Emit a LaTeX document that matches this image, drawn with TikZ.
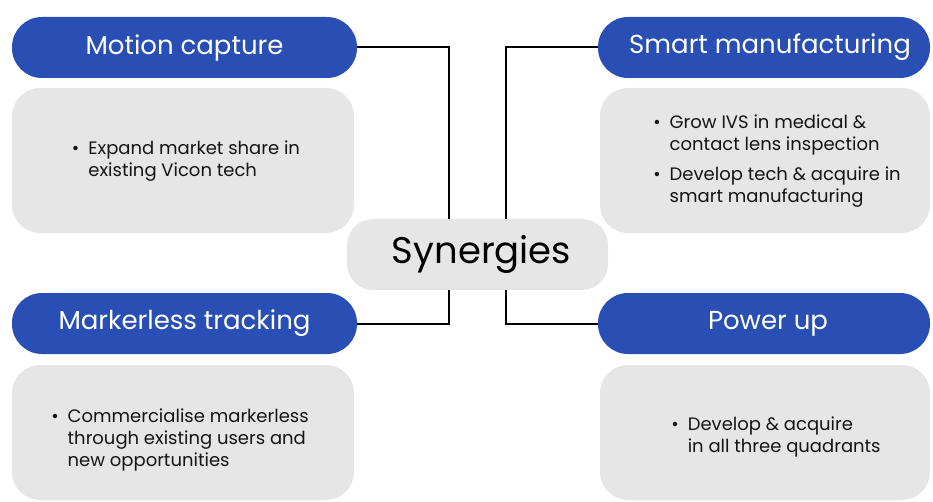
\documentclass[tikz,border=0pt]{standalone}
\usepackage{fontspec}
\setmainfont{Poppins}
\definecolor{pillblue}{HTML}{2A4FB4}
\definecolor{boxgray}{HTML}{E6E6E6}
\begin{document}
\begin{tikzpicture}[x=1pt,y=-1pt,
 pill/.style={fill=pillblue, text=white, rounded corners=30pt, minimum height=61pt, inner sep=0pt, font=\fontsize{26}{30}\selectfont},
 card/.style={fill=boxgray, rounded corners=28pt, inner sep=0pt},
 cardtext/.style={inner sep=0pt, font=\fontsize{18}{22}\selectfont, text=black!92},
 center/.style={fill=boxgray, rounded corners=26pt, minimum width=261pt, minimum height=71pt, inner sep=0pt, font=\fontsize{37}{40}\selectfont},
 link/.style={draw=black, line width=2pt}]
\useasboundingbox (0,0) rectangle (933,502);
% cards
\node[card, minimum width=342pt, minimum height=145pt] (mcc) at (183,160.5) {};
\node[card, minimum width=330pt, minimum height=145pt] (smc) at (765,160.5) {};
\node[card, minimum width=342pt, minimum height=135pt] (mlc) at (183,432.5) {};
\node[card, minimum width=330pt, minimum height=135pt] (puc) at (765,432.5) {};
% pills
\node[pill, minimum width=345pt] (mc) at (184.5,47.5) {Motion capture};
\node[pill, minimum width=332pt] (sm) at (764,47.5) {\hspace*{12pt}Smart manufacturing};
\node[pill, minimum width=345pt] (ml) at (184.5,323.5) {Markerless tracking};
\node[pill, minimum width=332pt] (pu) at (764,323.5) {\hspace*{8pt}Power up};
% center
\node[center] (syn) at (477.5,254.5) {\hspace*{8pt}Synergies};
% texts
\node[cardtext] (mct) at (186,161) {\begin{tabular}{@{}l@{\hspace{9pt}}l@{}}\textbullet & Expand market share in\\ & existing Vicon tech\end{tabular}};
\node[cardtext] (smt) at (777,161) {\begin{tabular}{@{}l@{\hspace{9pt}}l@{}}\textbullet & Grow IVS in medical \&\\ & contact lens inspection\\[8pt] \textbullet & Develop tech \& acquire in\\ & smart manufacturing\end{tabular}};
\node[cardtext] (mlt) at (180,440) {\begin{tabular}{@{}l@{\hspace{9pt}}l@{}}\textbullet & Commercialise markerless\\ & through existing users and\\ & new opportunities\end{tabular}};
\node[cardtext] (put) at (776,437) {\begin{tabular}{@{}l@{\hspace{9pt}}l@{}}\textbullet & Develop \& acquire\\ & in all three quadrants\end{tabular}};
% connectors
\draw[link] (mc.east) -| ([xshift=-28.5pt]syn.north);
\draw[link] (sm.west) -| ([xshift=28.5pt]syn.north);
\draw[link] (ml.east) -| ([xshift=-28.5pt]syn.south);
\draw[link] (pu.west) -| ([xshift=28.5pt]syn.south);
\end{tikzpicture}
\end{document}
